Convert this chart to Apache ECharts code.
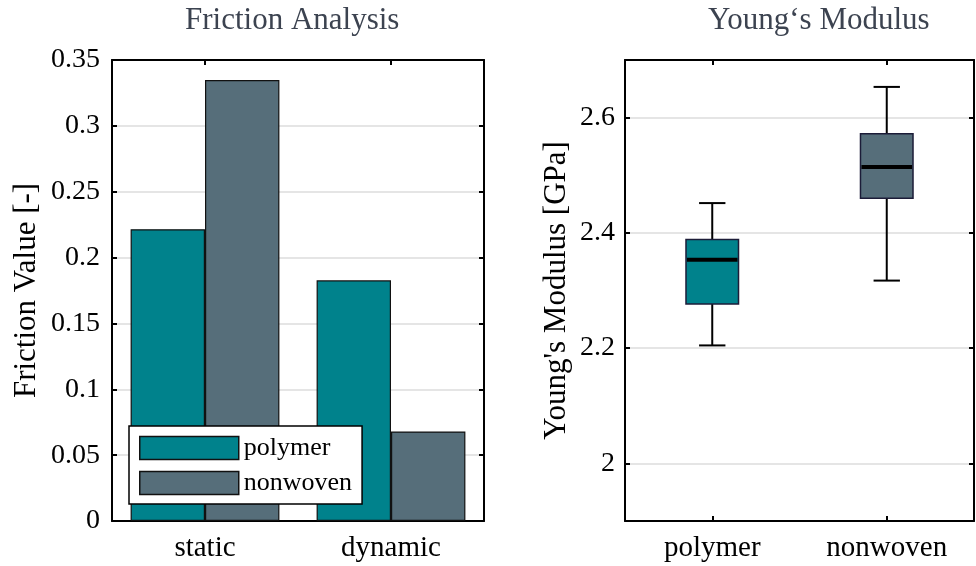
<!DOCTYPE html>
<html><head><meta charset="utf-8">
<script src="https://cdn.jsdelivr.net/npm/echarts@6/dist/echarts.min.js"></script>
<style>html,body{margin:0;padding:0;background:#fff}#c{width:976px;height:566px}</style>
</head><body><div id="c"></div>
<script>
// ---- data ----
const frictionCategories = ['static', 'dynamic'];
const frictionSeriesNames = ['polymer', 'nonwoven'];
const polymerFriction = [0.2215, 0.1827];
const nonwovenFriction = [0.3348, 0.068];
const frictionTicks = [0, 0.05, 0.1, 0.15, 0.2, 0.25, 0.3, 0.35];

const modulusCategories = ['polymer', 'nonwoven'];
// [low whisker, Q1, median, Q3, high whisker]
const polymerModulus = [2.2047, 2.2766, 2.3535, 2.3886, 2.4517];
const nonwovenModulus = [2.3172, 2.4599, 2.5144, 2.5719, 2.6533];
const modulusTicks = [2.0, 2.2, 2.4, 2.6];

// ---- styles ----
const FONT = 'Liberation Serif';
const C_POLY = '#00828c';
const C_NONW = '#566e7a';
const GRID_C = '#dcdcdc';

const chart = echarts.init(document.getElementById('c'), null, {renderer: 'canvas'});

function frameAxis(extra) {
  return Object.assign({
    axisLine: {show: true, onZero: false, lineStyle: {color: '#000', width: 2}},
    axisTick: {show: true, inside: true, length: 5, lineStyle: {color: '#000', width: 2}},
    axisLabel: {show: false},
    splitLine: {show: false}
  }, extra);
}

const boxColors = [C_POLY, C_NONW];

const option = {
  animation: false,
  backgroundColor: '#fff',
  textStyle: {fontFamily: FONT},
  title: [
    {text: 'Friction Analysis', left: 185, top: 5, padding: 0,
     textStyle: {fontFamily: FONT, fontSize: 31, fontWeight: 'normal', color: '#3c4350'}},
    {text: 'Young\u2018s Modulus', left: 708, top: 5, padding: 0,
     textStyle: {fontFamily: FONT, fontSize: 31, fontWeight: 'normal', color: '#3c4350'}}
  ],
  grid: [
    {left: 112, top: 60, width: 372, height: 461, containLabel: false},
    {left: 625, top: 60, width: 349, height: 461, containLabel: false}
  ],
  legend: {
    data: frictionSeriesNames,
    orient: 'vertical',
    left: 129, top: 426,
    padding: [9, 10, 8, 10],
    itemWidth: 99, itemHeight: 23, itemGap: 9,
    icon: 'rect',
    backgroundColor: '#fff',
    borderColor: '#000', borderWidth: 1.5, borderRadius: 0,
    itemStyle: {borderColor: '#111', borderWidth: 1.5},
    textStyle: {fontFamily: FONT, fontSize: 26, color: '#000'}
  },
  xAxis: [
    {type: 'category', gridIndex: 0, data: frictionCategories, position: 'bottom',
     axisLine: {show: true, lineStyle: {color: '#000', width: 2}},
     axisTick: {show: true, inside: true, alignWithLabel: true, length: 5, lineStyle: {color: '#000', width: 2}},
     axisLabel: {fontFamily: FONT, fontSize: 29, color: '#000', margin: 13},
     splitLine: {show: false}},
    frameAxis({type: 'category', gridIndex: 0, data: frictionCategories, position: 'top',
     axisTick: {show: true, inside: true, alignWithLabel: true, length: 5, lineStyle: {color: '#000', width: 2}}}),
    {type: 'category', gridIndex: 1, data: modulusCategories, position: 'bottom',
     axisLine: {show: true, lineStyle: {color: '#000', width: 2}},
     axisTick: {show: true, inside: true, alignWithLabel: true, length: 5, lineStyle: {color: '#000', width: 2}},
     axisLabel: {fontFamily: FONT, fontSize: 29, color: '#000', margin: 13},
     splitLine: {show: false}},
    frameAxis({type: 'category', gridIndex: 1, data: modulusCategories, position: 'top',
     axisTick: {show: true, inside: true, alignWithLabel: true, length: 5, lineStyle: {color: '#000', width: 2}}})
  ],
  yAxis: [
    {type: 'value', gridIndex: 0, position: 'left',
     min: frictionTicks[0], max: frictionTicks[frictionTicks.length - 1], interval: 0.05,
     name: 'Friction Value [-]', nameLocation: 'middle', nameGap: 70,
     nameTextStyle: {fontFamily: FONT, fontSize: 31, color: '#000'},
     axisLine: {show: true, onZero: false, lineStyle: {color: '#000', width: 2}},
     axisTick: {show: true, inside: true, length: 5, lineStyle: {color: '#000', width: 2}},
     axisLabel: {fontFamily: FONT, fontSize: 28, color: '#000', margin: 12,
       formatter: v => String(+v.toFixed(2))},
     splitLine: {show: true, lineStyle: {color: GRID_C, width: 1.5}}},
    frameAxis({type: 'value', gridIndex: 0, position: 'right',
     min: frictionTicks[0], max: frictionTicks[frictionTicks.length - 1], interval: 0.05}),
    {type: 'value', gridIndex: 1, position: 'left',
     min: 1.9, max: 2.7, interval: 0.1,
     name: "Young's Modulus [GPa]", nameLocation: 'middle', nameGap: 53,
     nameTextStyle: {fontFamily: FONT, fontSize: 31, color: '#000'},
     axisLine: {show: true, onZero: false, lineStyle: {color: '#000', width: 2}},
     axisTick: {show: true, inside: true, length: 5, customValues: modulusTicks, lineStyle: {color: '#000', width: 2}},
     axisLabel: {fontFamily: FONT, fontSize: 28, color: '#000', margin: 10, customValues: modulusTicks,
       formatter: v => String(+v.toFixed(1))},
     splitLine: {show: true, lineStyle: {color: GRID_C, width: 1.5}}},
    frameAxis({type: 'value', gridIndex: 1, position: 'right', min: 1.9, max: 2.7, interval: 0.1,
     axisTick: {show: true, inside: true, length: 5, customValues: modulusTicks, lineStyle: {color: '#000', width: 2}}})
  ],
  series: [
    {name: frictionSeriesNames[0], type: 'bar', xAxisIndex: 0, yAxisIndex: 0,
     data: polymerFriction, barGap: '0%', barCategoryGap: '20%',
     itemStyle: {color: C_POLY, borderColor: '#111', borderWidth: 1.2}},
    {name: frictionSeriesNames[1], type: 'bar', xAxisIndex: 0, yAxisIndex: 0,
     data: nonwovenFriction, barGap: '0%', barCategoryGap: '20%',
     itemStyle: {color: C_NONW, borderColor: '#111', borderWidth: 1.2}},
    {name: 'modulus', type: 'custom', xAxisIndex: 2, yAxisIndex: 2,
     data: [[0].concat(polymerModulus), [1].concat(nonwovenModulus)],
     encode: {x: 0, y: [1, 2, 3, 4, 5]},
     renderItem: function (params, api) {
       const idx = api.value(0);
       const low = api.coord([idx, api.value(1)]);
       const q1 = api.coord([idx, api.value(2)]);
       const med = api.coord([idx, api.value(3)]);
       const q3 = api.coord([idx, api.value(4)]);
       const high = api.coord([idx, api.value(5)]);
       const bandW = api.size([1, 0])[0];
       const bw = bandW * 0.301;
       const cw = bandW * 0.151;
       const x = low[0];
       const lineS = {stroke: '#000', lineWidth: 2};
       return {type: 'group', children: [
         {type: 'line', shape: {x1: x, y1: low[1], x2: x, y2: q1[1]}, style: lineS},
         {type: 'line', shape: {x1: x, y1: q3[1], x2: x, y2: high[1]}, style: lineS},
         {type: 'line', shape: {x1: x - cw / 2, y1: low[1], x2: x + cw / 2, y2: low[1]}, style: lineS},
         {type: 'line', shape: {x1: x - cw / 2, y1: high[1], x2: x + cw / 2, y2: high[1]}, style: lineS},
         {type: 'rect', shape: {x: x - bw / 2, y: q3[1], width: bw, height: q1[1] - q3[1]},
          style: {fill: boxColors[params.dataIndex], stroke: '#1c1c38', lineWidth: 1.5}},
         {type: 'line', shape: {x1: x - bw / 2 + 1, y1: med[1], x2: x + bw / 2 - 1, y2: med[1]},
          style: {stroke: '#000', lineWidth: 4}}
       ]};
     }}
  ]
};
chart.setOption(option);
</script>
</body></html>
